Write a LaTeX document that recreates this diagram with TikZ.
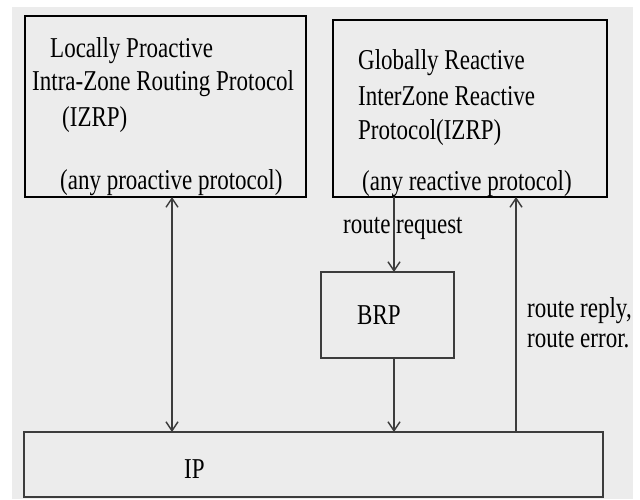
\documentclass[tikz,border=0pt]{standalone}
\usepackage{fontspec}
\setmainfont{Liberation Serif}
\usetikzlibrary{arrows.meta}
\definecolor{bg}{RGB}{236,236,236}
\definecolor{ln}{RGB}{60,60,60}
\newcommand{\tx}[1]{\scalebox{1}[1.25]{#1}}
\begin{document}
\begin{tikzpicture}[x=1pt,y=-1pt,
  box/.style={draw=black, line width=2.4pt, inner sep=0pt, outer sep=0pt},
  thinbox/.style={draw=ln, line width=1.8pt, inner sep=0pt, outer sep=0pt},
  lbl/.style={anchor=base west, inner sep=0pt, font=\fontsize{23}{23}\selectfont},
  conn/.style={draw=ln, line width=1.4pt},
  barb/.tip={Straight Barb[length=9pt,width=12pt]},
  tip/.style={-barb}]
\path[fill=white] (0,0) rectangle (640,499);
\fill[bg] (12,7) rectangle (633,499);
\useasboundingbox (0,0) rectangle (640,499);

\node[box, minimum width=281pt, minimum height=181pt, anchor=north west] (L) at (25,16) {};
\node[box, minimum width=274pt, minimum height=177pt, anchor=north west] (R) at (333,20) {};
\node[thinbox, minimum width=133pt, minimum height=86pt, anchor=north west] (BRP) at (321,272) {};
\node[thinbox, minimum width=579pt, minimum height=65pt, anchor=north west] (IP) at (24,432) {};

\node[lbl] (l1) at (50,57) {\tx{Locally Proactive}};
\node[lbl] (l2) at (32,90) {\tx{Intra-Zone Routing Protocol}};
\node[lbl] (l3) at (62,126) {\tx{(IZRP)}};
\node[lbl] (l4) at (60,189) {\tx{(any proactive protocol)}};

\node[lbl] (r1) at (358,69) {\tx{Globally Reactive}};
\node[lbl] (r2) at (358,105) {\tx{InterZone Reactive}};
\node[lbl] (r3) at (358,139) {\tx{Protocol(IZRP)}};
\node[lbl] (r4) at (362,190) {\tx{(any reactive protocol)}};

\node[lbl] (brpt) at (357,324) {\tx{BRP}};
\node[lbl] (ipt) at (184,478) {\tx{IP}};

\node[lbl] (rq) at (343,233) {\tx{route request}};
\node[lbl] (rr) at (527,317) {\tx{route reply,}};
\node[lbl] (re) at (527,347) {\tx{route error.}};

\coordinate (xa) at (172,0);
\coordinate (xb) at (394,0);
\coordinate (xc) at (516,0);

\draw[conn, barb-barb] (L.south -| xa) -- (IP.north -| xa);
\draw[conn, tip] (R.south -| xb) -- (BRP.north -| xb);
\draw[conn, tip] (BRP.south -| xb) -- (IP.north -| xb);
\draw[conn, tip] (IP.north -| xc) -- (R.south -| xc);
\end{tikzpicture}
\end{document}
